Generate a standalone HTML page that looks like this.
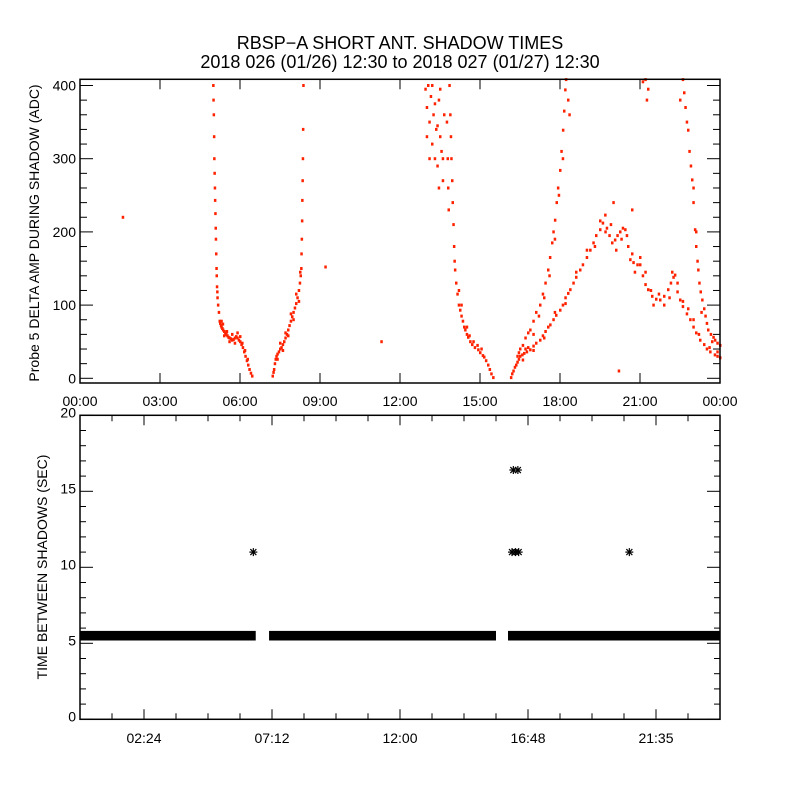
<!DOCTYPE html>
<html><head><meta charset="utf-8"><style>
body{margin:0;background:#fff}
svg{display:block;font-family:"Liberation Sans",sans-serif}
</style></head><body>
<svg id="chart" width="800" height="800" viewBox="0 0 800 800">
<rect x="0" y="0" width="800" height="800" fill="#fff"/>
<text x="400" y="49" text-anchor="middle" font-size="18">RBSP−A SHORT ANT. SHADOW TIMES</text>
<text x="400" y="68" text-anchor="middle" font-size="18">2018 026 (01/26) 12:30 to 2018 027 (01/27) 12:30</text>
<g id="topPanel"></g>
<g id="botPanel"></g>
</svg>
<script>
// ---- top panel data (hour, ADC) ----
const curveA=[[4.99,400],[5.0,380],[5.01,360],[5.02,330],[5.03,300],[5.04,280],[5.05,260],[5.06,243],[5.07,225],[5.08,205],[5.09,190],[5.10,170],[5.11,150],[5.12,140],[5.13,125],[5.14,118],[5.15,110],[5.17,100],[5.2,90],[5.23,78],[5.25,75],[5.28,72],[5.3,70],[5.33,68],[5.36,66],[5.4,64],[5.44,62],[5.48,60],[5.52,58],[5.56,56],[5.6,55],[5.65,54],[5.7,52],[5.75,53],[5.8,55],[5.85,57],[5.9,55],[5.95,52],[6.0,50],[6.05,46],[6.1,42],[6.15,36],[6.2,30],[6.25,24],[6.3,18],[6.35,12],[6.4,7],[6.45,3],[5.3,78],[5.35,74],[5.4,58],[5.5,64],[5.6,50],[5.7,60],[5.8,48],[5.9,62],[6.0,57],[6.08,48],[6.18,38],[6.28,26]];
const curveB=[[7.22,3],[7.25,8],[7.27,12],[7.3,20],[7.33,26],[7.36,30],[7.4,33],[7.45,36],[7.5,40],[7.55,42],[7.6,46],[7.65,50],[7.7,55],[7.75,60],[7.8,66],[7.85,72],[7.9,78],[7.95,84],[8.0,90],[8.05,96],[8.1,102],[8.15,110],[8.2,120],[8.24,130],[8.27,140],[8.29,150],[8.3,170],[8.31,190],[8.32,215],[8.33,243],[8.34,270],[8.35,300],[8.36,340],[8.37,400],[7.4,26],[7.5,48],[7.6,38],[7.7,62],[7.8,58],[7.9,88],[8.0,80],[8.1,115],[8.2,105],[8.25,145]];
const curveC=[[12.95,395],[13.0,370],[13.05,400],[13.1,350],[13.15,385],[13.2,320],[13.25,360],[13.3,300],[13.35,340],[13.4,290],[13.45,380],[13.5,330],[13.55,310],[13.6,270],[13.65,360],[13.1,300],[13.2,400],[13.3,375],[13.4,345],[13.5,395],[13.6,300],[13.0,330],[13.45,260],[13.85,400],[13.88,360],[13.9,330],[13.92,300],[13.95,270],[13.97,240],[14.0,210],[14.02,180],[14.04,160],[14.06,148],[14.1,130],[14.15,115],[14.2,100],[14.25,93],[14.3,85],[14.35,78],[14.4,70],[14.44,66],[14.5,60],[14.55,56],[14.63,50],[14.7,46],[14.8,42],[14.93,39],[15.0,35],[15.1,31],[15.15,29],[15.22,24],[15.3,18],[15.36,12],[15.42,6],[15.49,1],[13.75,350],[13.78,300],[13.8,260],[13.82,230],[14.2,120],[14.3,100],[14.5,70],[14.6,58],[14.75,50],[14.9,45],[15.05,40]];
const curveD=[[16.16,1],[16.2,6],[16.25,10],[16.3,15],[16.35,18],[16.4,22],[16.45,26],[16.5,30],[16.58,32],[16.65,34],[16.75,36],[16.88,39],[17.0,44],[17.1,48],[17.25,52],[17.35,58],[17.45,64],[17.55,70],[17.63,73],[17.75,80],[17.85,86],[18.0,93],[18.1,100],[18.2,110],[18.3,116],[18.38,121],[18.5,130],[18.6,138],[18.75,148],[18.85,155],[19.0,165],[19.13,175],[19.25,185],[19.35,195],[19.5,203],[19.6,212],[19.69,223],[19.75,205],[19.85,195],[19.95,185],[20.06,189],[20.15,195],[20.25,200],[20.35,205],[20.44,203],[20.55,180],[20.63,162],[20.75,158],[20.9,155],[21.0,155],[21.1,140],[21.2,128],[21.3,121],[21.45,112],[21.6,108],[21.75,107],[21.9,112],[22.05,121],[22.15,130],[22.25,138],[22.31,141],[22.4,118],[22.5,107],[22.6,98],[22.75,88],[22.88,80],[23.0,70],[23.1,62],[23.25,52],[23.4,46],[23.5,40],[23.63,36],[23.8,32],[23.9,30],[24.0,28],[16.4,30],[16.6,25],[16.8,42],[17.0,38],[17.4,55],[17.8,90],[18.2,102],[18.6,145],[19.0,175],[19.3,180],[19.5,215],[19.7,200],[19.9,210],[20.1,175],[20.3,190],[20.5,195],[20.7,170],[20.8,145],[21.0,165],[21.2,145],[21.4,120],[21.5,100],[21.7,115],[21.9,100],[22.1,110],[22.2,145],[22.4,130],[22.6,105],[22.8,95],[23.0,80],[23.2,60],[23.6,42],[23.9,36],[20.0,240],[20.7,230]];
const curveE=[[16.45,35],[16.5,40],[16.6,45],[16.7,55],[16.8,62],[16.88,66],[17.0,78],[17.1,90],[17.25,100],[17.35,115],[17.45,130],[17.55,148],[17.62,165],[17.7,185],[17.75,200],[17.81,216],[17.87,240],[17.92,260],[18.0,284],[18.05,310],[18.11,339],[18.15,365],[18.19,394],[18.22,408],[16.7,40],[17.0,60],[17.2,85],[17.4,110],[17.6,140],[17.8,190],[17.95,250],[18.1,300],[18.3,380],[18.35,360]];
const curveF=[[22.6,408],[22.65,390],[22.7,370],[22.75,350],[22.8,339],[22.85,310],[22.9,290],[22.95,271],[23.0,240],[23.06,203],[23.1,180],[23.15,160],[23.18,148],[23.22,130],[23.27,118],[23.33,107],[23.4,95],[23.45,85],[23.55,66],[23.65,60],[23.75,56],[23.81,52],[23.9,48],[24.0,45],[22.5,380],[23.0,260],[23.1,200],[23.3,90],[23.5,75],[23.7,50]];
const strayPoints=[[1.6,220],[9.2,152],[11.3,50],[21.2,408],[21.3,395],[21.1,405],[21.25,380],[20.2,10]];
const topXTickLabels=["00:00","03:00","06:00","09:00","12:00","15:00","18:00","21:00","00:00"];
const topYTickLabels=["0","100","200","300","400"];
// ---- bottom panel data ----
const bandSegments=[[0,6.59],[7.09,15.6],[16.05,24]];
const bandValue=5.5;
const outlierHours=[6.5,16.25,16.42,16.2,16.33,16.45,20.6];
const outlierValues=[11,16.4,16.4,11,11,11,11];
const botXTickLabels=["02:24","07:12","12:00","16:48","21:35"];
const botYTickLabels=["0","5","10","15","20"];

const NS="http://www.w3.org/2000/svg";
function mk(parent,tag,attrs){const e=document.createElementNS(NS,tag);for(const k in attrs)e.setAttribute(k,attrs[k]);parent.appendChild(e);return e;}
const L=80,R=720;
const xT=h=>L+h*(R-L)/24;
const T0=79.3,TB=383,yT=v=>378.3-v*0.732;
const B0=415.3,BB=719.3,yB=v=>BB-v*(BB-B0)/20;

const topG=document.getElementById('topPanel');
const dots=mk(topG,'g',{fill:'#ff2200'});


[curveA,curveB,curveC,curveD,curveE,curveF,strayPoints].forEach(arr=>{
  arr.forEach(p=>{
    const r=mk(dots,'rect',{x:(xT(p[0])-1).toFixed(1),y:(yT(p[1])-1.5).toFixed(1),width:2.5,height:3});
    
    
  });
});
const tf=mk(topG,'rect',{x:L,y:T0,width:R-L,height:TB-T0,fill:'none',stroke:'#000','stroke-width':1.5});


topXTickLabels.forEach((lab,i)=>{
  const x=xT(i*3);
  mk(topG,'line',{x1:x,x2:x,y1:TB,y2:TB-10,stroke:'#000'});
  mk(topG,'line',{x1:x,x2:x,y1:T0,y2:T0+10,stroke:'#000'});
  const t=mk(topG,'text',{x:x,y:406,'text-anchor':'middle','font-size':14});
  t.textContent=lab;
  
  
});
for(let v=0;v<=400;v+=20){
  const y=yT(v),len=(v%100===0)?13:7;
  mk(topG,'line',{x1:L,x2:L+len,y1:y,y2:y,stroke:'#000'});
  mk(topG,'line',{x1:R,x2:R-len,y1:y,y2:y,stroke:'#000'});
}
topYTickLabels.forEach((lab,i)=>{
  const t=mk(topG,'text',{x:76,y:yT(i*100)+5,'text-anchor':'end','font-size':14});
  t.textContent=lab;
  
  
});
const ty=mk(topG,'text',{x:0,y:0,'text-anchor':'middle','font-size':14,transform:'translate(39,233) rotate(-90)'});
ty.textContent='Probe 5 DELTA AMP DURING SHADOW (ADC)';



const botG=document.getElementById('botPanel');
const marks=mk(botG,'g',{fill:'#000',stroke:'#000'});


bandSegments.forEach(s=>{
  const r=mk(marks,'rect',{x:xT(s[0]),y:yB(bandValue)-4.8,width:xT(s[1])-xT(s[0]),height:9.6,stroke:'none'});
  
  
});
outlierHours.forEach((h,i)=>{
  const cx=xT(h),cy=yB(outlierValues[i]);
  const g=mk(marks,'g',{'stroke-width':1.2});
  
  
  mk(g,'line',{x1:cx-4,x2:cx+4,y1:cy,y2:cy});
  mk(g,'line',{x1:cx,x2:cx,y1:cy-4,y2:cy+4});
  mk(g,'line',{x1:cx-3,x2:cx+3,y1:cy-3,y2:cy+3});
  mk(g,'line',{x1:cx-3,x2:cx+3,y1:cy+3,y2:cy-3});
});
const bf=mk(botG,'rect',{x:L,y:B0,width:R-L,height:BB-B0,fill:'none',stroke:'#000','stroke-width':1.5});


for(let k=1;k<20;k++){
  const x=xT(k*1.2),len=(k%4===2)?10:6;
  mk(botG,'line',{x1:x,x2:x,y1:BB,y2:BB-len,stroke:'#000'});
  mk(botG,'line',{x1:x,x2:x,y1:B0,y2:B0+len,stroke:'#000'});
}
botXTickLabels.forEach((lab,i)=>{
  const t=mk(botG,'text',{x:xT(2.4+i*4.8),y:743,'text-anchor':'middle','font-size':14});
  t.textContent=lab;
  
  
});
for(let v=0;v<=20;v++){
  const y=yB(v),len=(v%5===0)?13:6;
  mk(botG,'line',{x1:L,x2:L+len,y1:y,y2:y,stroke:'#000'});
  mk(botG,'line',{x1:R,x2:R-len,y1:y,y2:y,stroke:'#000'});
}
botYTickLabels.forEach((lab,i)=>{
  const t=mk(botG,'text',{x:76,y:yB(i*5)+2,'text-anchor':'end','font-size':14});
  t.textContent=lab;
  
  
});
const by=mk(botG,'text',{x:0,y:0,'text-anchor':'middle','font-size':14,transform:'translate(47,567) rotate(-90)'});
by.textContent='TIME BETWEEN SHADOWS (SEC)';


</script>
</body></html>
